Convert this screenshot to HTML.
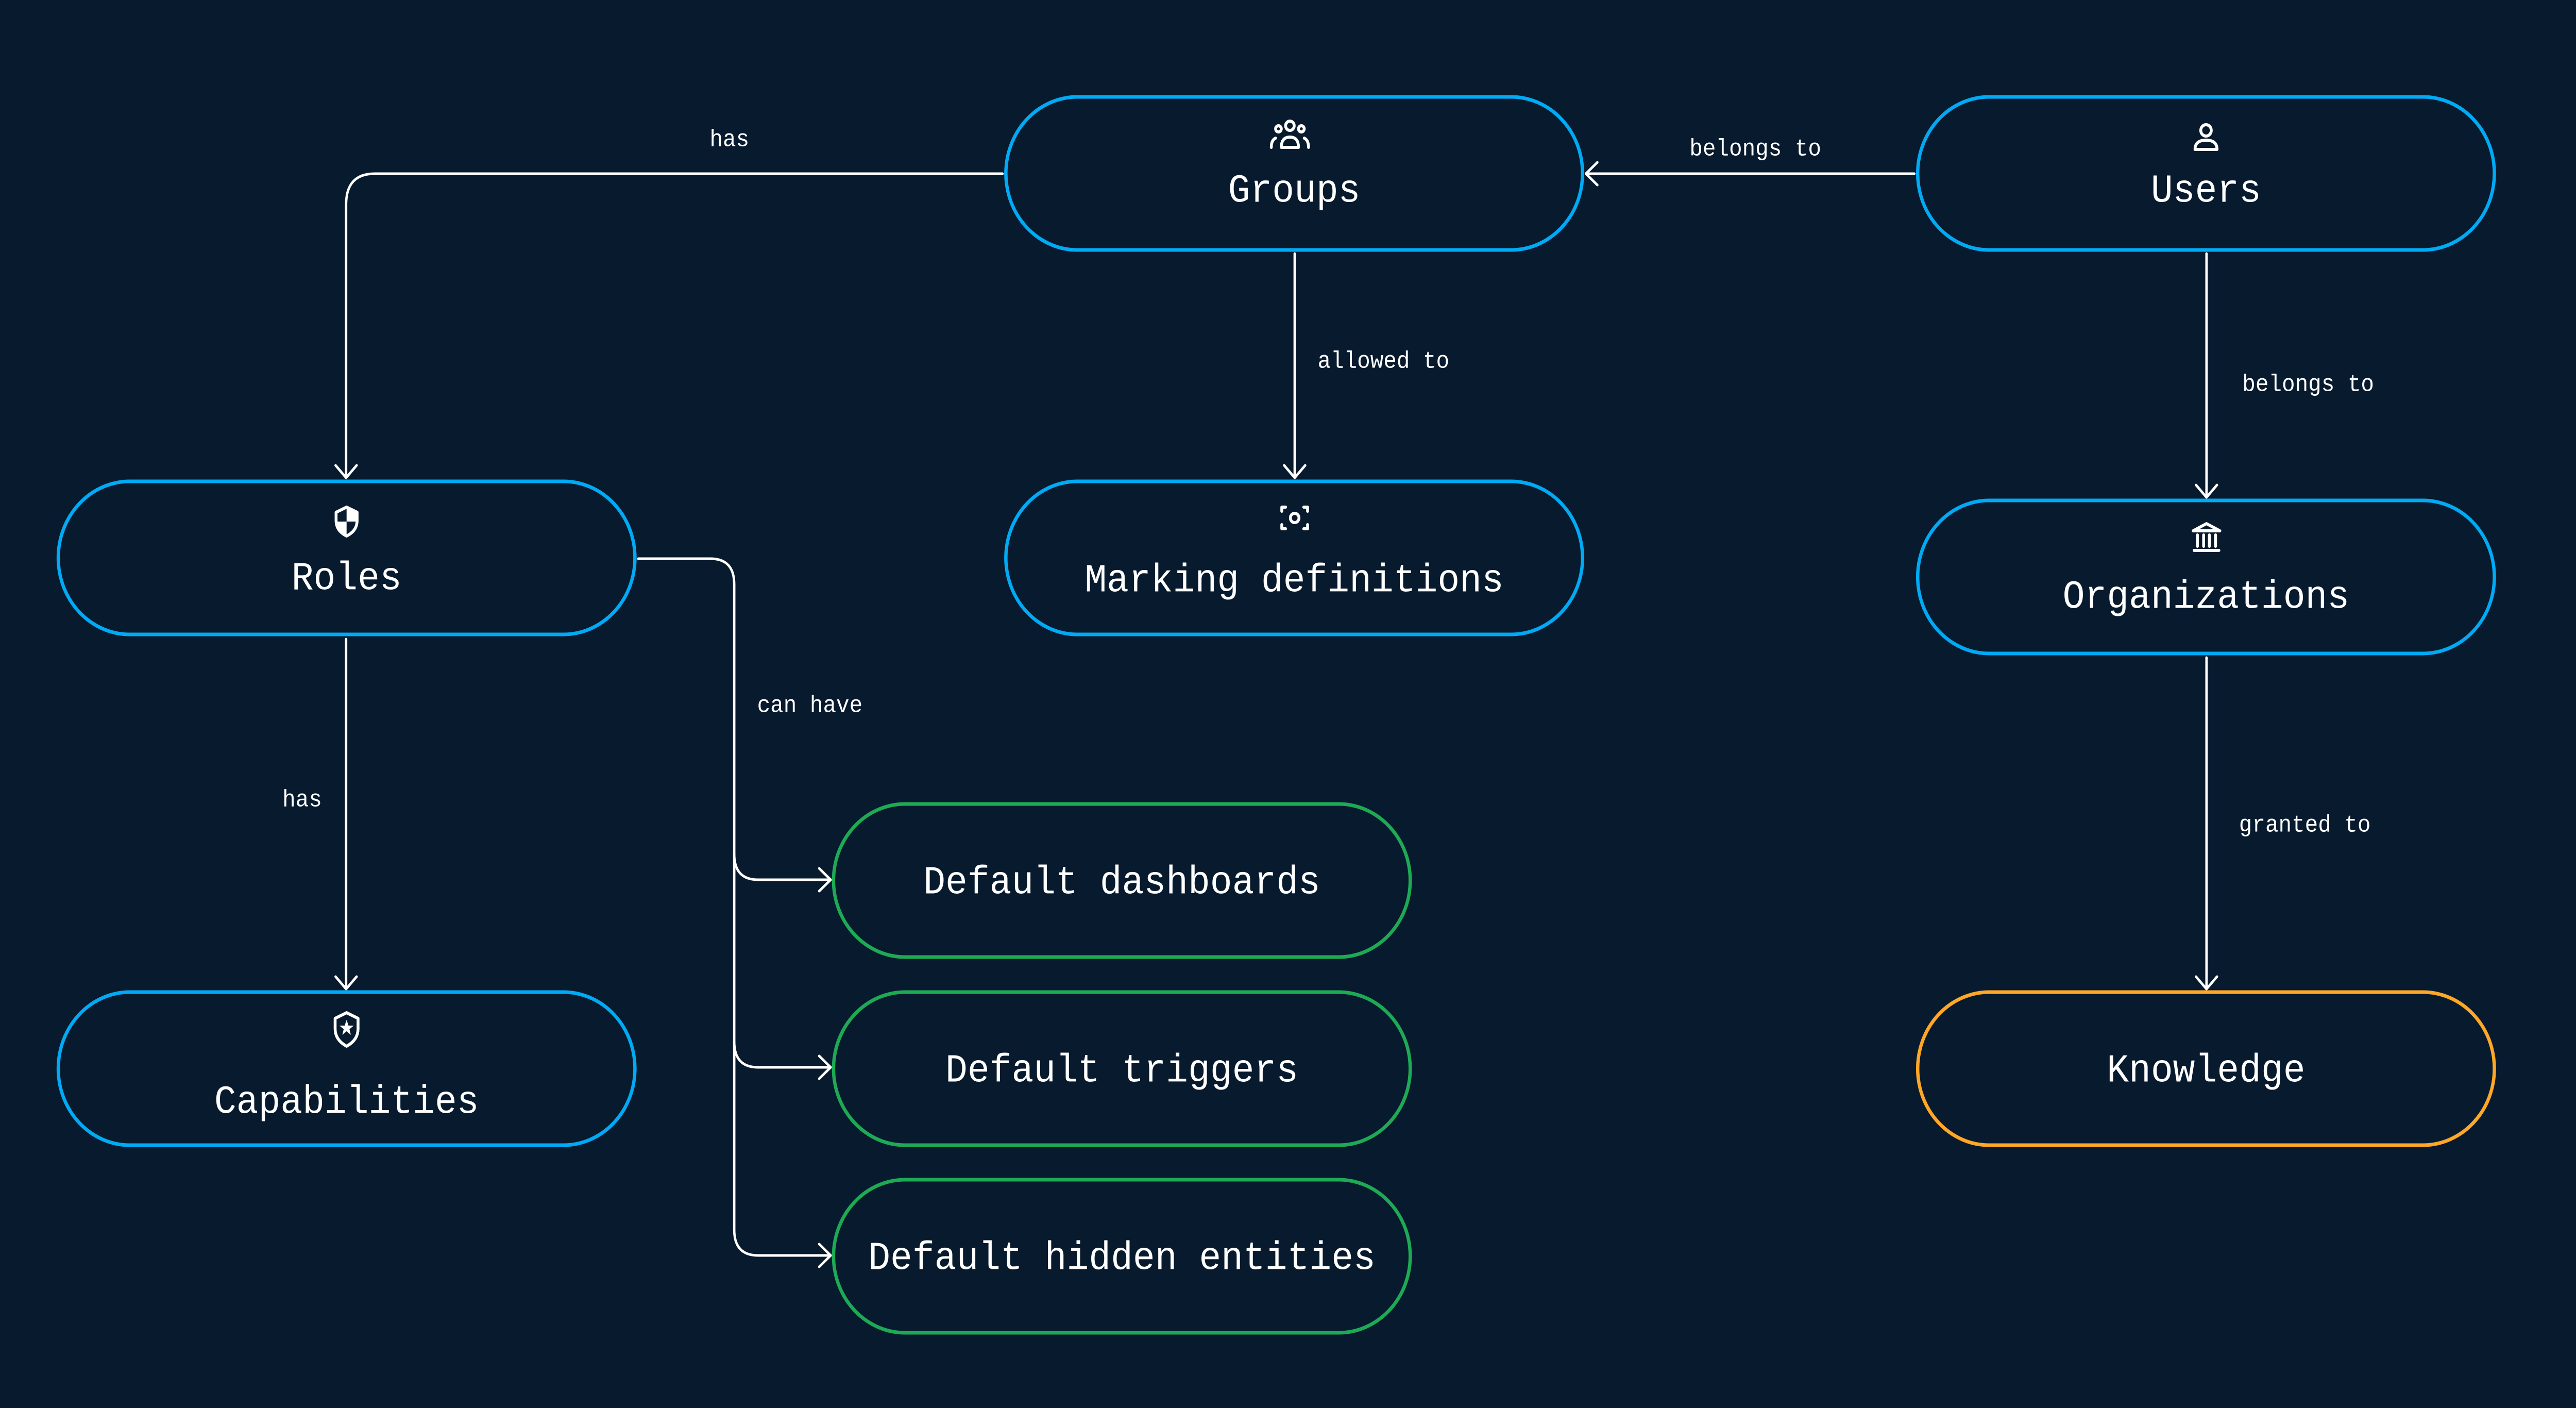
<!DOCTYPE html>
<html><head><meta charset="utf-8"><style>
html,body{margin:0;padding:0;background:#081a2e;overflow:hidden;width:100vw;height:100vh;}
svg{display:block;width:100vw;height:100vh}
text{font-family:"Liberation Mono","DejaVu Sans Mono",monospace;fill:#fff}
.n{font-size:77px;text-anchor:middle;dominant-baseline:central}
.e{font-size:46px;dominant-baseline:central}
.c{fill:none;stroke:#fff;stroke-width:5;stroke-linecap:round;stroke-linejoin:round}
.ic{fill:none;stroke:#fff;stroke-width:6;stroke-linecap:round;stroke-linejoin:round}
</style></head><body>
<svg viewBox="0 0 5396 2732" preserveAspectRatio="none" xmlns="http://www.w3.org/2000/svg">
<rect width="5396" height="2732" fill="#081a2e"/>
<path class="c" d="M2100 337 H785 Q725 337 725 397 V925"/>
<path class="c" d="M703 903 L725 927 L747 903"/>
<text class="e" x="1528" y="272" text-anchor="middle">has</text>

<path class="c" d="M4010 337 H3322"/>
<path class="c" d="M3346 315 L3322 337 L3346 359"/>
<text class="e" x="3677" y="290" text-anchor="middle">belongs to</text>

<path class="c" d="M2712 492 V925"/>
<path class="c" d="M2690 903 L2712 927 L2734 903"/>
<text class="e" x="2760" y="702">allowed to</text>

<path class="c" d="M4622 492 V963"/>
<path class="c" d="M4600 941 L4622 965 L4644 941"/>
<text class="e" x="4697" y="747">belongs to</text>

<path class="c" d="M4622 1276 V1917"/>
<path class="c" d="M4600 1895 L4622 1919 L4644 1895"/>
<text class="e" x="4690" y="1602">granted to</text>

<path class="c" d="M725 1240 V1917"/>
<path class="c" d="M703 1895 L725 1919 L747 1895"/>
<text class="e" x="633" y="1553" text-anchor="middle">has</text>

<path class="c" d="M1337 1084 H1488 Q1538 1084 1538 1134 V2386 Q1538 2436 1588 2436 H1738"/>
<path class="c" d="M1538 1657 Q1538 1707 1588 1707 H1738"/>
<path class="c" d="M1538 2021 Q1538 2071 1588 2071 H1738"/>
<path class="c" d="M1716 1685 L1740 1707 L1716 1729"/>
<path class="c" d="M1716 2049 L1740 2071 L1716 2093"/>
<path class="c" d="M1716 2414 L1740 2436 L1716 2458"/>
<text class="e" x="1586" y="1370">can have</text>

<g fill="#081a2e" stroke-width="7">
<rect x="2107" y="188" width="1208" height="297" rx="150" stroke="#00aaf5"/>
<rect x="4017" y="188" width="1208" height="297" rx="150" stroke="#00aaf5"/>
<rect x="122" y="934" width="1208" height="297" rx="150" stroke="#00aaf5"/>
<rect x="2107" y="934" width="1208" height="297" rx="150" stroke="#00aaf5"/>
<rect x="4017" y="971" width="1208" height="297" rx="150" stroke="#00aaf5"/>
<rect x="122" y="1925" width="1208" height="297" rx="150" stroke="#00aaf5"/>
<rect x="4017" y="1925" width="1208" height="297" rx="150" stroke="#ffa726"/>
<rect x="1746" y="1560" width="1208" height="297" rx="150" stroke="#1eaa55"/>
<rect x="1746" y="1925" width="1208" height="297" rx="150" stroke="#1eaa55"/>
<rect x="1746" y="2289" width="1208" height="297" rx="150" stroke="#1eaa55"/>
</g>
<text class="n" x="2711" y="372">Groups</text>
<text class="n" x="4621" y="372">Users</text>
<text class="n" x="726" y="1124">Roles</text>
<text class="n" x="2711" y="1128">Marking definitions</text>
<text class="n" x="4621" y="1160">Organizations</text>
<text class="n" x="726" y="2140">Capabilities</text>
<text class="n" x="4621" y="2079">Knowledge</text>
<text class="n" x="2350" y="1714">Default dashboards</text>
<text class="n" x="2350" y="2079">Default triggers</text>
<text class="n" x="2350" y="2443">Default hidden entities</text>

<g class="ic">
<circle cx="2702" cy="244" r="9"/><circle cx="2678" cy="250" r="6"/><circle cx="2726" cy="250" r="6"/>
<path d="M2684 286 Q2684 266 2702 266 Q2720 266 2720 286 Z"/><path d="M2663 286 Q2663 272 2672 268"/><path d="M2741 286 Q2741 272 2732 268"/>
<circle cx="4621" cy="253" r="11"/><path d="M4598 290 Q4598 272 4621 272 Q4644 272 4644 290 Z"/>
<path d="M726 984 L748 994 V1010 Q748 1030 726 1040 Q704 1030 704 1010 V994 Z"/>
<path d="M2685 992 V984 H2693 M2731 984 H2739 V992 M2739 1018 V1026 H2731 M2693 1026 H2685 V1018"/>
<circle cx="2712" cy="1005" r="9"/>
<path d="M4594 1030 L4622 1016 L4650 1030 Z M4596 1068 H4648 M4603 1038 V1060 M4616 1038 V1060 M4628 1038 V1060 M4641 1038 V1060"/>
<path d="M726 1965 L750 1976 V1996 Q750 2018 726 2030 Q702 2018 702 1996 V1976 Z"/>
</g>
<path d="M726 1979 L730 1990 L741 1990 L732 1997 L735 2008 L726 2001 L717 2008 L720 1997 L711 1990 L722 1990 Z" fill="#fff"/>
<path d="M726 987 V1012 H746 V994 Z M706 1012 H726 V1037 Q706 1030 706 1012 Z" fill="#fff"/>
</svg>
</body></html>
